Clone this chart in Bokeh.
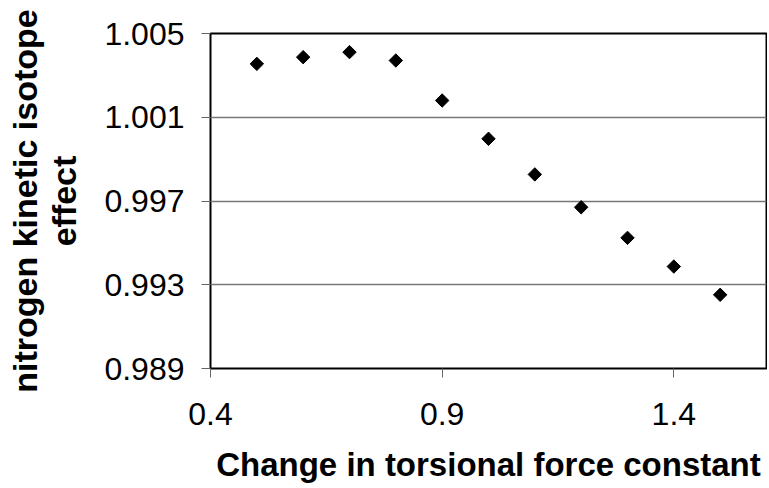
import math
from bokeh.plotting import figure
from bokeh.models import FixedTicker, Range1d, CustomJSTickFormatter
from bokeh.embed import file_html
from bokeh.resources import INLINE

torsion_change = [0.5, 0.6, 0.7, 0.8, 0.9, 1.0, 1.1, 1.2, 1.3, 1.4, 1.5]
nitrogen_kie = [1.00355, 1.00387, 1.00411, 1.00371, 1.00180, 0.99997,
                0.99827, 0.99670, 0.99524, 0.99387, 0.99252]
x_ticks = [0.4, 0.9, 1.4]
y_ticks = [0.989, 0.993, 0.997, 1.001, 1.005]

p = figure(width=767, height=488, output_backend="svg", toolbar_location=None,
           x_range=Range1d(0.4, 1.6), y_range=Range1d(0.989, 1.005),
           min_border_left=210, min_border_right=1, min_border_top=33, min_border_bottom=120)
p.scatter(torsion_change, nitrogen_kie, marker="square", angle=math.pi / 4,
          size=9.5, color="black")

p.outline_line_color = "black"
p.outline_line_width = 2
p.xgrid.visible = False
p.ygrid.ticker = FixedTicker(ticks=y_ticks)
p.ygrid.grid_line_color = "#777777"
p.ygrid.grid_line_width = 1.5

p.xaxis.ticker = FixedTicker(ticks=x_ticks)
p.yaxis.ticker = FixedTicker(ticks=y_ticks)
for ax in (p.xaxis, p.yaxis):
    ax.axis_line_color = None
    ax.major_tick_line_color = "#666666"
    ax.major_tick_out = 9
    ax.major_tick_in = 0
    ax.minor_tick_line_color = None
    ax.major_label_text_font = "Liberation Sans"
    ax.major_label_text_font_size = "32px"
    ax.major_label_text_color = "black"
    ax.axis_label_text_font = "Liberation Sans"
    ax.axis_label_text_font_style = "bold"
    ax.axis_label_text_color = "black"

p.yaxis.axis_label_text_font_size = "34px"
p.xaxis.axis_label_text_font_size = "33px"
p.yaxis.formatter = CustomJSTickFormatter(code="return tick.toFixed(3);")
p.xaxis.formatter = CustomJSTickFormatter(code="return tick.toFixed(1);")
p.xaxis.major_label_standoff = 25
p.yaxis.major_label_standoff = 17
p.xaxis.axis_label = "Change in torsional force constant"
p.xaxis.axis_label_standoff = 18
p.yaxis.axis_label = "nitrogen kinetic isotope\neffect"
p.yaxis.axis_label_standoff = 18
p.yaxis.axis_label_text_line_height = 1.05

open("out.html", "w").write(file_html(p, INLINE))
